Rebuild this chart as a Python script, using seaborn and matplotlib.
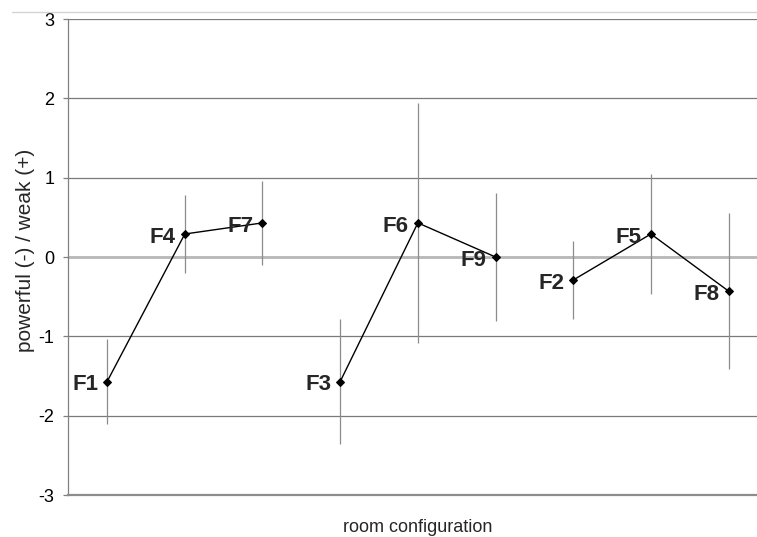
import numpy as np
import pandas as pd
import seaborn as sns
import matplotlib.pyplot as plt
from matplotlib import font_manager
from matplotlib.lines import Line2D

# room configurations, in drawing order (three groups of three)
labels = ["F1", "F4", "F7", "F3", "F6", "F9", "F2", "F5", "F8"]
groups = [1, 1, 1, 2, 2, 2, 3, 3, 3]
means = [-1.57, 0.29, 0.43, -1.57, 0.43, 0.0, -0.29, 0.29, -0.43]
errors = [0.54, 0.49, 0.53, 0.79, 1.51, 0.81, 0.49, 0.76, 0.98]
yticks = [-3, -2, -1, 0, 1, 2, 3]

df = pd.DataFrame({
    "pos": np.arange(1, len(labels) + 1),
    "mean": means,
    "err": errors,
    "group": groups,
    "label": labels,
})

sns.set_style("white")
plt.rcParams["font.family"] = ["Liberation Sans", "DejaVu Sans"]
plt.rcParams["axes.unicode_minus"] = False

# the point labels are a narrow bold face; use one if installed
installed = {f.name for f in font_manager.fontManager.ttflist}
label_font = "Liberation Sans Narrow" if "Liberation Sans Narrow" in installed else "Liberation Sans"

fig = plt.figure(figsize=(7.57, 5.37), dpi=100)
ax = fig.add_axes([0.0902, 0.0782, 0.9236, 0.8864])

# gridlines
ax.set_yticks(yticks)
ax.yaxis.grid(True, color="#7a7a7a", lw=0.9, zorder=0)
ax.axhline(0, color="#b8b8b8", lw=2.0, zorder=1)

# error bars (thin gray, no caps)
ax.errorbar(df["pos"], df["mean"], yerr=df["err"], fmt="none",
            ecolor="#8c8c8c", elinewidth=0.9, capsize=0, zorder=2)

# means connected within each group
sns.lineplot(data=df, x="pos", y="mean", units="group", estimator=None,
             color="black", lw=1.0, marker="D", markersize=4.5,
             markeredgecolor="black", ax=ax, zorder=3, legend=False)

for _, r in df.iterrows():
    ax.annotate(r["label"], (r["pos"], r["mean"]), xytext=(-6.5, -0.5),
                textcoords="offset points", ha="right", va="center_baseline",
                fontsize=16, fontweight="bold",
                family=[label_font, "DejaVu Sans"], zorder=4)

ax.set_xlim(0.5, 9.5)
ax.set_ylim(-3, 3)
ax.set_xticks([])

for s in ["top", "right"]:
    ax.spines[s].set_visible(False)
ax.spines["left"].set_color("#808080")
ax.spines["left"].set_linewidth(0.9)
ax.spines["bottom"].set_color("#8c8c8c")
ax.spines["bottom"].set_linewidth(1.6)

ax.tick_params(axis="y", left=True, length=3.6, width=0.9, color="#808080",
               pad=6.5, labelsize=13, labelcolor="black")

ax.set_xlabel("room configuration", fontsize=13, labelpad=17)
ax.set_ylabel("powerful (-) / weak (+)", fontsize=15)
ax.yaxis.set_label_coords(-0.048, 0.5137)

# thin light frame line at the top of the chart area
fig.add_artist(Line2D([12 / 757, 1], [1 - 11.5 / 537] * 2, color="#d4d4d4", lw=1.0))

fig.savefig("out.png", dpi=100)
